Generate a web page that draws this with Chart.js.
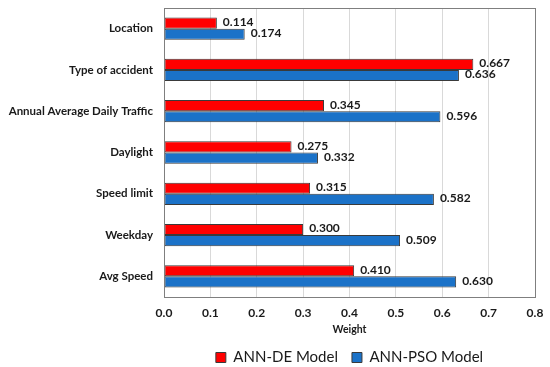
<!DOCTYPE html>
<html><head><meta charset="utf-8">
<script src="https://cdn.jsdelivr.net/npm/chart.js@4"></script>
<style>html,body{margin:0;padding:0;background:#fff}#wrap{width:550px;height:367px}</style>
</head><body><div id="wrap"><canvas id="c" width="550" height="367"></canvas></div>
<script>
const categories = ["Location","Type of accident","Annual Average Daily Traffic","Daylight","Speed limit","Weekday","Avg Speed"];
const annDE = [0.114,0.667,0.345,0.275,0.315,0.300,0.410];
const annPSO = [0.174,0.636,0.596,0.332,0.582,0.509,0.630];
const xTicks = [0,0.1,0.2,0.3,0.4,0.5,0.6,0.7,0.8];
const FONT = "Lato, 'Open Sans', sans-serif";

const labelPlugin = {
  id:'vlabels',
  afterDatasetsDraw(chart){
    const ctx = chart.ctx;
    ctx.save();
    ctx.font = "bold 12px " + FONT;
    ctx.fillStyle = '#1a1a1a';
    ctx.textBaseline = 'middle';
    ctx.textAlign = 'left';
    chart.data.datasets.forEach((ds,i)=>{
      chart.getDatasetMeta(i).data.forEach((bar,j)=>{
        ctx.fillText(ds.data[j].toFixed(3), bar.x + 6, bar.y - 1);
      });
    });
    ctx.restore();
  }
};
const borderPlugin = {
  id:'pborder',
  afterDraw(chart){
    const a = chart.chartArea, ctx = chart.ctx;
    ctx.save(); ctx.strokeStyle='#7f7f7f'; ctx.lineWidth=1;
    ctx.strokeRect(Math.round(a.left)+0.5, Math.round(a.top)+0.5, Math.round(a.right-a.left), Math.round(a.bottom-a.top));
    ctx.restore();
  }
};

new Chart(document.getElementById('c'), {
  type:'bar',
  data:{
    labels: categories,
    datasets:[
      {label:'ANN-DE Model', data: annDE, backgroundColor:'#ff0000', borderColor:'#3a3a3a', borderWidth:1, borderSkipped:false},
      {label:'ANN-PSO Model', data: annPSO, backgroundColor:'#1b72c8', borderColor:'#3a3a3a', borderWidth:1, borderSkipped:false}
    ]
  },
  options:{
    indexAxis:'y',
    responsive:false,
    animation:false,
    devicePixelRatio:1,
    layout:{padding:{left:0,right:15,top:8,bottom:-8}},
    datasets:{bar:{categoryPercentage:0.54, barPercentage:1.0}},
    scales:{
      x:{
        min:0,max:0.8,
        afterBuildTicks(s){ s.ticks = xTicks.map(v=>({value:v})); },
        afterFit(s){ s.paddingLeft = 0; s.paddingRight = 0; },
        ticks:{font:{family:FONT,size:12,weight:'bold'},color:'#1a1a1a',padding:9,callback:v=>Number(v).toFixed(1)},
        grid:{color:'#d9d9d9',drawTicks:false},
        border:{display:false},
        title:{display:true,text:'Weight',font:{family:FONT,size:10.5,weight:'bold'},color:'#1a1a1a',padding:{top:-6,bottom:0}}
      },
      y:{
        afterFit(s){ s.width = 164; s.paddingTop = 0; s.paddingBottom = 0; },
        ticks:{font:{family:FONT,size:11.5,weight:'bold'},color:'#1a1a1a',padding:11},
        grid:{display:false,drawTicks:false},
        border:{display:false}
      }
    },
    plugins:{
      legend:{position:'bottom',fullSize:false,labels:{font:{family:FONT,size:15},color:'#1a1a1a',boxWidth:10,boxHeight:10,padding:14}},
      tooltip:{enabled:false}
    }
  },
  plugins:[labelPlugin,borderPlugin]
});
</script></body></html>
